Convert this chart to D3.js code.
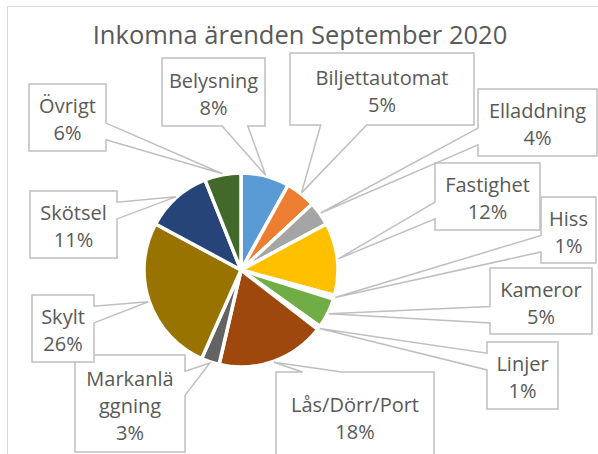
<!DOCTYPE html>
<html>
<head>
<meta charset="utf-8">
<script src="https://cdn.jsdelivr.net/npm/d3@7"></script>
<style>
  body { margin: 0; background: #fff; }
  svg { display: block; font-family: "Open Sans", sans-serif; }
</style>
</head>
<body>
<svg id="chart" width="598" height="454"></svg>
<script>
// data
var categories = ['Belysning', 'Biljettautomat', 'Elladdning', 'Fastighet', 'Hiss', 'Kameror',
                  'Linjer', 'Lås/Dörr/Port', 'Markanläggning', 'Skylt', 'Skötsel', 'Övrigt'];
var values = [8, 5, 4, 12, 0.6, 5, 0.6, 18, 3, 26, 11, 6];
var colors = ['#5B9BD5', '#ED7D31', '#A5A5A5', '#FFC000', '#4472C4', '#70AD47',
              '#255E91', '#9E480E', '#636363', '#997300', '#264478', '#43682B'];
var title = 'Inkomna ärenden September 2020';

// callout box placement [x0, y0, x1, y1], same order as categories
var calloutBoxes = [
    [162, 58, 265, 126], [290, 53, 474, 125], [478, 89, 597, 156], [435, 163, 540, 230],
    [541, 197, 596, 263], [490, 268, 592, 334], [487, 342, 558, 409], [276, 372, 434, 461],
    [75, 355, 185, 452], [32, 295, 94, 362], [30, 191, 117, 258], [29, 84, 106, 151]
];

var svg = d3.select('#chart'),
    cx = 241, cy = 270, radius = 97,
    textColor = '#595959',
    lineHeight = 27,
    boxPadding = 12.5;

// chart frame
svg.append('rect')
    .attr('x', 7.5).attr('y', 6.5)
    .attr('width', 700).attr('height', 600)
    .attr('fill', 'none')
    .attr('stroke', '#D9D9D9');

svg.append('text')
    .attr('x', 300).attr('y', 44)
    .attr('text-anchor', 'middle')
    .attr('fill', textColor)
    .style('font-size', '25.5px')
    .text(title);

var total = d3.sum(values);
var pie = d3.pie().sort(null).value(function(d) { return d; });
var arcs = pie(values);
var arc = d3.arc().innerRadius(0).outerRadius(radius);

var g = svg.append('g').attr('transform', 'translate(' + cx + ',' + cy + ')');

g.selectAll('path')
    .data(arcs)
  .enter()
    .append('path')
    .attr('d', arc)
    .attr('fill', function(d, i) { return colors[i]; })
    .attr('stroke', '#fff')
    .attr('stroke-width', 3.5)
    .attr('stroke-linejoin', 'round');

// wedge callout shaped like the office one
function calloutPath(b, tip) {
    var x0 = b[0], y0 = b[1], x1 = b[2], y1 = b[3],
        w = x1 - x0, h = y1 - y0,
        bx = x0 + w / 2, by = y0 + h / 2,
        dxn = (tip[0] - bx) / w,
        dyn = (tip[1] - by) / h,
        side;

    if (Math.abs(dxn) > Math.abs(dyn)) side = dxn < 0 ? 'left' : 'right';
    else side = dyn < 0 ? 'top' : 'bottom';

    var fx = tip[0] < bx ? [1 / 6, 5 / 12] : [7 / 12, 5 / 6],
        fy = tip[1] < by ? [1 / 6, 5 / 12] : [7 / 12, 5 / 6],
        t = tip.join(','),
        p = 'M' + x0 + ',' + y0;

    if (side === 'top') p += 'L' + (x0 + w * fx[0]) + ',' + y0 + 'L' + t + 'L' + (x0 + w * fx[1]) + ',' + y0;
    p += 'L' + x1 + ',' + y0;
    if (side === 'right') p += 'L' + x1 + ',' + (y0 + h * fy[0]) + 'L' + t + 'L' + x1 + ',' + (y0 + h * fy[1]);
    p += 'L' + x1 + ',' + y1;
    if (side === 'bottom') p += 'L' + (x0 + w * fx[1]) + ',' + y1 + 'L' + t + 'L' + (x0 + w * fx[0]) + ',' + y1;
    p += 'L' + x0 + ',' + y1;
    if (side === 'left') p += 'L' + x0 + ',' + (y0 + h * fy[1]) + 'L' + t + 'L' + x0 + ',' + (y0 + h * fy[0]);
    return p + 'Z';
}

// break a word by characters if it is wider than the box
var measure = svg.append('text').style('font-size', '20px').attr('visibility', 'hidden');
function wrap(str, maxWidth) {
    var lines = [], cur = '';
    str.split('').forEach(function(ch) {
        measure.text(cur + ch);
        if (cur && measure.node().getComputedTextLength() > maxWidth) {
            lines.push(cur);
            cur = ch;
        } else {
            cur += ch;
        }
    });
    lines.push(cur);
    return lines;
}

var labels = svg.append('g');

arcs.forEach(function(d, i) {
    var b = calloutBoxes[i],
        mid = (d.startAngle + d.endAngle) / 2,
        tip = [cx + Math.sin(mid) * (radius + 1), cy - Math.cos(mid) * (radius + 1)],
        pct = Math.round(values[i] / total * 100) + '%',
        lines = wrap(categories[i], b[2] - b[0] - boxPadding).concat([pct]),
        bx = (b[0] + b[2]) / 2,
        by = (b[1] + b[3]) / 2;

    labels.append('path')
        .attr('d', calloutPath(b, tip))
        .attr('fill', '#fff')
        .attr('stroke', '#BFBFBF')
        .attr('stroke-width', 1.5)
        .attr('stroke-linejoin', 'miter');

    var text = labels.append('text')
        .attr('text-anchor', 'middle')
        .attr('fill', textColor)
        .style('font-size', '20px');

    lines.forEach(function(l, j) {
        text.append('tspan')
            .attr('x', bx)
            .attr('y', by + (j - (lines.length - 1) / 2) * lineHeight + 9)
            .text(l);
    });
});

measure.remove();
</script>
</body>
</html>
